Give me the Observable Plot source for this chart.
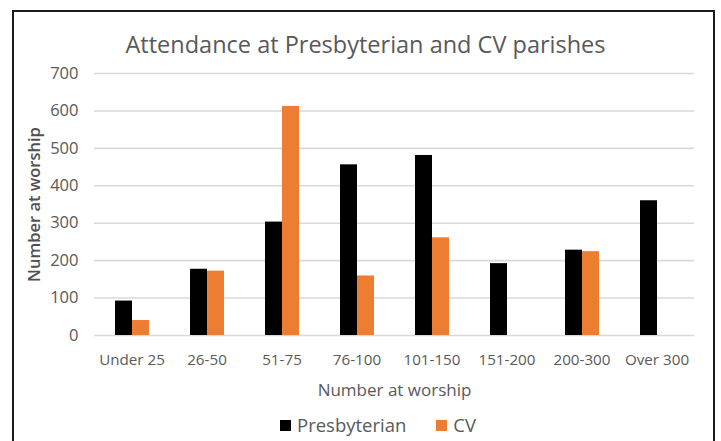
<!DOCTYPE html>
<html><head><meta charset="utf-8">
<script src="https://cdn.jsdelivr.net/npm/d3@7"></script>
<script src="https://cdn.jsdelivr.net/npm/@observablehq/plot@0.6"></script>
<style>
body{margin:0;background:#fff;}
#wrap{position:relative;width:721px;height:441px;overflow:hidden;font-family:"Open Sans",Lato,sans-serif;color:#595959;}
#frame{position:absolute;left:12px;top:10px;width:703px;height:470px;border:2px solid #1a1a1a;box-sizing:border-box;}
#title{position:absolute;top:29px;left:13px;width:705px;text-align:center;font-size:23.5px;line-height:30px;color:#595959;}
#chart{position:absolute;left:0;top:0;}
#legend{position:absolute;top:412px;left:280px;font-size:18.5px;line-height:26px;color:#595959;display:flex;align-items:center;}
.sw{display:inline-block;width:11px;height:11px;margin-right:6px;}
.item{display:flex;align-items:center;margin-right:30px;}
</style></head>
<body>
<div id="wrap">
  <div id="frame"></div>
  <div id="title">Attendance at Presbyterian and CV parishes</div>
  <div id="chart"></div>
  <div id="legend"></div>
</div>
<script>
const categories = ["Under 25","26-50","51-75","76-100","101-150","151-200","200-300","Over 300"];
const presbyterian = [92,177,303,456,481,192,228,360];
const cv = [40,172,612,159,261,null,224,null];
const seriesNames = ["Presbyterian","CV"];
const seriesColors = ["#000000","#ED7D31"];
const yTicks = [0,100,200,300,400,500,600,700];

const data = categories.flatMap((c,i)=>[
  {category:c, series:"Presbyterian", value:presbyterian[i]},
  {category:c, series:"CV", value:cv[i]}
]).filter(d=>d.value!=null);

const chart = Plot.plot({
  width:721, height:405,
  marginLeft:94, marginRight:27, marginTop:73, marginBottom:70,
  style:{fontFamily:'"Open Sans",Lato,sans-serif', background:"transparent"},
  fx:{domain:categories, padding:0},
  x:{domain:seriesNames, paddingInner:0, paddingOuter:1.12, axis:null},
  y:{domain:[0,700]},
  color:{domain:seriesNames, range:seriesColors},
  marks:[
    Plot.gridY(yTicks,{stroke:"#d9d9d9", strokeOpacity:1, strokeWidth:1.6}),
    Plot.barY(data,{fx:"category", x:"series", y:"value", fill:"series"}),
    Plot.axisY(yTicks,{tickSize:0, tickPadding:16, fontSize:16.5, fill:"#595959", label:null}),
    Plot.axisY({ticks:[], tickSize:0, label:"Number at worship", labelAnchor:"center", labelArrow:"none", labelOffset:66, fontSize:16.5, fontWeight:600, fill:"#505050"}),
    Plot.axisFx({anchor:"bottom", tickSize:0, tickPadding:19, fontSize:15.2, fill:"#595959", label:null}),
    Plot.axisFx({anchor:"bottom", ticks:[], tickSize:0, fontSize:17, fill:"#595959", label:"Number at worship", labelAnchor:"center", labelArrow:"none", labelOffset:60})
  ]
});
document.getElementById("chart").appendChild(chart);

const legend = document.getElementById("legend");
seriesNames.forEach((s,i)=>{
  const it = document.createElement("span"); it.className="item";
  const sw = document.createElement("span"); sw.className="sw"; sw.style.background=seriesColors[i];
  const t = document.createElement("span"); t.textContent=s;
  it.appendChild(sw); it.appendChild(t); legend.appendChild(it);
});
</script>
</body></html>
